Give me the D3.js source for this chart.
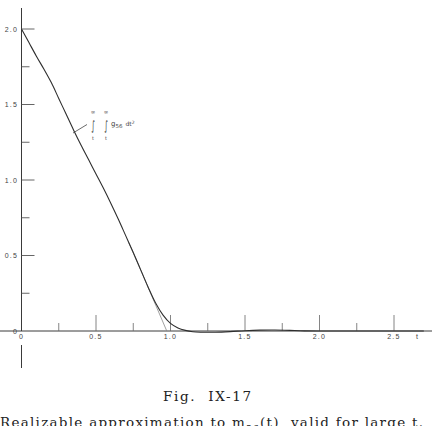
<!DOCTYPE html>
<html lang="en">
<head>
<meta charset="UTF-8">
<title>Fig. IX-17</title>
<script src="https://d3js.org/d3.v7.min.js"></script>
<style>
  body { margin: 0; background: #fff; }
  svg { display: block; }
</style>
</head>
<body>
<script>
// curve (t, value)
var tVals   = [0, 0.05, 0.1, 0.15, 0.2, 0.25, 0.3, 0.35, 0.4, 0.45, 0.5, 0.55, 0.6, 0.65, 0.7, 0.75, 0.8, 0.85, 0.9, 0.95, 1.0, 1.05, 1.1, 1.15, 1.2, 1.3, 1.4, 1.5, 1.6, 1.7, 1.8, 1.9, 2.0, 2.7];
var mVals   = [2.0, 1.91, 1.82, 1.735, 1.645, 1.54, 1.435, 1.33, 1.23, 1.135, 1.04, 0.945, 0.845, 0.74, 0.63, 0.52, 0.405, 0.29, 0.185, 0.105, 0.05, 0.02, 0.004, -0.005, -0.008, -0.008, -0.004, 0.002, 0.006, 0.007, 0.004, 0.001, 0, 0];
// the straight approximation near the bottom
var tApprox = [0.72, 0.78, 0.975];
var mApprox = [0.585, 0.45, 0];

var xMajor = [0, 0.5, 1.0, 1.5, 2.0, 2.5];
var xMinor = [0.25, 0.75, 1.25, 1.75, 2.25];
var xLabels = ["0", "0.5", "1.0", "1.5", "2.0", "2.5"];
var yMajor = [0.5, 1.0, 1.5, 2.0];
var yMinor = [0.25, 0.75, 1.25, 1.75];
var yLabels = ["0", "0.5", "1.0", "1.5", "2.0"];
var yLabelVals = [0, 0.5, 1.0, 1.5, 2.0];

var w = 432, h = 426;

var svg = d3.select("body").append("svg")
    .attr("width", w)
    .attr("height", h);

var x = d3.scaleLinear().domain([0, 1]).range([21.5, 170.5]);
var y = d3.scaleLinear().domain([0, 2]).range([331, 29]);

var ink = "#3a3a3a";

// axes
svg.append("line")
    .attr("x1", 0).attr("x2", w)
    .attr("y1", y(0)).attr("y2", y(0))
    .attr("stroke", ink).attr("stroke-width", 1);
svg.append("line")
    .attr("x1", x(0)).attr("x2", x(0))
    .attr("y1", 8).attr("y2", y(0))
    .attr("stroke", ink).attr("stroke-width", 1);
svg.append("line")
    .attr("x1", x(0)).attr("x2", x(0))
    .attr("y1", 345).attr("y2", 368)
    .attr("stroke", ink).attr("stroke-width", 1);

// x ticks (pointing up)
svg.selectAll(".xmaj").data(xMajor.slice(1)).enter().append("line")
    .attr("x1", d => x(d)).attr("x2", d => x(d))
    .attr("y1", y(0)).attr("y2", y(0) - 16)
    .attr("stroke", "#666").attr("stroke-width", 0.8);
svg.selectAll(".xmin").data(xMinor).enter().append("line")
    .attr("x1", d => x(d)).attr("x2", d => x(d))
    .attr("y1", y(0)).attr("y2", y(0) - 8)
    .attr("stroke", "#666").attr("stroke-width", 0.8);

// y ticks (pointing right)
svg.selectAll(".ymaj").data(yMajor).enter().append("line")
    .attr("x1", x(0)).attr("x2", x(0) + 13)
    .attr("y1", d => y(d)).attr("y2", d => y(d))
    .attr("stroke", "#555").attr("stroke-width", 0.9);
svg.selectAll(".ymin").data(yMinor).enter().append("line")
    .attr("x1", x(0)).attr("x2", x(0) + 8)
    .attr("y1", d => y(d)).attr("y2", d => y(d))
    .attr("stroke", "#555").attr("stroke-width", 0.9);

// tick labels
svg.selectAll(".xl").data(xMajor).enter().append("text")
    .attr("x", d => x(d))
    .attr("y", y(0) + 8)
    .attr("text-anchor", "middle")
    .attr("font-family", "Liberation Sans, sans-serif")
    .attr("font-size", 7)
    .attr("letter-spacing", 1.3)
    .attr("fill", "#444")
    .text((d, i) => xLabels[i]);
svg.append("text")
    .attr("x", 417).attr("y", y(0) + 8)
    .attr("text-anchor", "middle")
    .attr("font-family", "Liberation Sans, sans-serif")
    .attr("font-size", 7)
    .attr("fill", "#444")
    .text("t");

svg.selectAll(".yl").data(yLabelVals).enter().append("text")
    .attr("x", 18)
    .attr("y", d => y(d) + 2.5)
    .attr("text-anchor", "end")
    .attr("font-family", "Liberation Sans, sans-serif")
    .attr("font-size", 7)
    .attr("letter-spacing", 1.2)
    .attr("fill", "#444")
    .text((d, i) => yLabels[i]);

// curves
var line = d3.line()
    .x(d => x(d[0]))
    .y(d => y(d[1]))
    .curve(d3.curveCatmullRom);

svg.append("path")
    .datum(tApprox.map((t, i) => [t, mApprox[i]]))
    .attr("d", d3.line().x(d => x(d[0])).y(d => y(d[1])))
    .attr("fill", "none")
    .attr("stroke", "#888")
    .attr("stroke-width", 0.8);

svg.append("path")
    .datum(tVals.map((t, i) => [t, mVals[i]]))
    .attr("d", line)
    .attr("fill", "none")
    .attr("stroke", "#2e2e2e")
    .attr("stroke-width", 1.1);

// annotation: double integral of g56
var note = svg.append("g")
    .attr("font-family", "DejaVu Sans, sans-serif")
    .attr("fill", "#444");
[93, 106].forEach(function (px) {
    note.append("text").attr("x", px).attr("y", 114).attr("font-size", 5.5).attr("text-anchor", "middle").text("∞");
    note.append("text").attr("x", px).attr("y", 130).attr("font-size", 13)
        .attr("text-anchor", "middle")
        .attr("transform", "translate(" + px + ",0) scale(0.55,1) translate(" + (-px) + ",0)")
        .text("∫");
    note.append("text").attr("x", px).attr("y", 140).attr("font-size", 5).attr("text-anchor", "middle").text("t");
});
var g = note.append("text").attr("x", 111).attr("y", 126).attr("font-size", 7);
g.append("tspan").text("g");
g.append("tspan").attr("font-size", 5.5).attr("dy", 2).text("56");
g.append("tspan").attr("font-size", 6).attr("dy", -2).attr("dx", 3).text("dt");
g.append("tspan").attr("font-size", 4.5).attr("dy", -2.5).text("2");

svg.append("line")
    .attr("x1", 73).attr("y1", 133)
    .attr("x2", 87).attr("y2", 124.5)
    .attr("stroke", "#444").attr("stroke-width", 0.8);

// caption
svg.append("text")
    .attr("x", 163).attr("y", 401)
    .attr("font-family", "DejaVu Serif, serif")
    .attr("font-size", 13.5)
    .attr("fill", "#222")
    .attr("textLength", 88)
    .attr("lengthAdjust", "spacing")
    .attr("xml:space", "preserve")
    .text("Fig.  IX-17");

var cap = svg.append("text")
    .attr("x", 0).attr("y", 427)
    .attr("font-family", "DejaVu Serif, serif")
    .attr("font-size", 13.5)
    .attr("fill", "#222")
    .attr("textLength", 423)
    .attr("lengthAdjust", "spacing");
cap.append("tspan").text("Realizable approximation to m");
cap.append("tspan").attr("font-size", 9).attr("dy", 5).text("56");
cap.append("tspan").attr("dy", -5).text("(t),  valid for large t.");
</script>
</body>
</html>
